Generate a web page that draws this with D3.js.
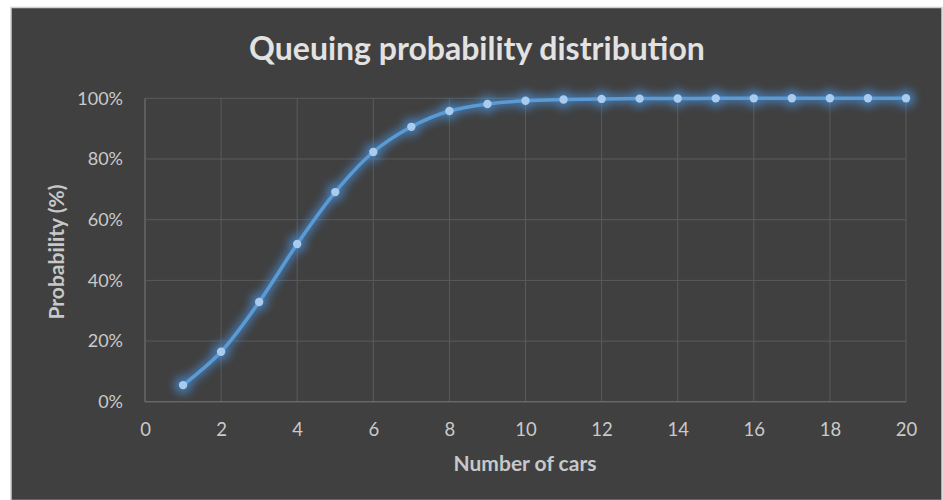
<!DOCTYPE html>
<html>
<head>
<meta charset="utf-8">
<script src="https://cdn.jsdelivr.net/npm/d3@7"></script>
<style>
html,body{margin:0;padding:0;background:#ffffff;}
svg{display:block;}
</style>
</head>
<body>
<svg id="chart" width="943" height="500"></svg>
<script>
const cars = [1,2,3,4,5,6,7,8,9,10,11,12,13,14,15,16,17,18,19,20];
const probability = [0.055,0.165,0.329,0.520,0.691,0.823,0.906,0.958,0.981,0.992,0.996,0.998,0.999,0.9995,0.9998,0.9999,1,1,1,1];
const xTicks = [0,2,4,6,8,10,12,14,16,18,20];
const yTicks = [0,0.2,0.4,0.6,0.8,1.0];
const title = "Queuing probability distribution";
const xTitle = "Number of cars";
const yTitle = "Probability (%)";

const svg = d3.select("#chart");
const W = 943, H = 500;
const font = "Lato, 'Open Sans', sans-serif";

svg.append("rect").attr("x",0).attr("y",0).attr("width",W).attr("height",H).attr("fill","#ffffff");
svg.append("rect").attr("x",11).attr("y",7.5).attr("width",931).attr("height",493)
  .attr("fill","#404040").attr("stroke","#d0d0d0").attr("stroke-width",1.5);

const m = {left:145, right:906, top:98.3, bottom:401.8};
const x = d3.scaleLinear().domain([0,20]).range([m.left, m.right]);
const y = d3.scaleLinear().domain([0,1]).range([m.bottom, m.top]);

const defs = svg.append("defs");
const glow = defs.append("filter").attr("id","glow").attr("x","-20%").attr("y","-20%").attr("width","140%").attr("height","140%");
glow.append("feGaussianBlur").attr("in","SourceGraphic").attr("stdDeviation",4).attr("result","b");

// grid
const gx = svg.append("g");
gx.selectAll("line.v").data(xTicks).join("line")
  .attr("x1",d=>x(d)).attr("x2",d=>x(d)).attr("y1",m.top).attr("y2",m.bottom)
  .attr("stroke",d=>d===0?"#7a7a7a":"#5a5a5a").attr("stroke-width",1);
gx.selectAll("line.h").data(yTicks).join("line")
  .attr("x1",m.left).attr("x2",m.right).attr("y1",d=>y(d)).attr("y2",d=>y(d))
  .attr("stroke",d=>d===0?"#7a7a7a":"#5a5a5a").attr("stroke-width",1);

// axes (labels only)
const xAxis = d3.axisBottom(x).tickValues(xTicks).tickSize(0).tickPadding(21);
const gxa = svg.append("g").attr("transform",`translate(0,${m.bottom})`).call(xAxis);
gxa.select(".domain").remove();
gxa.selectAll("text").attr("fill","#cacaca").style("font-family",font).style("font-size","18.5px");

const yAxis = d3.axisLeft(y).tickValues(yTicks).tickSize(0).tickPadding(22).tickFormat(d3.format(".0%"));
const gya = svg.append("g").attr("transform",`translate(${m.left},0)`).call(yAxis);
gya.select(".domain").remove();
gya.selectAll("text").attr("fill","#cacaca").style("font-family",font).style("font-size","18px");

// titles
svg.append("text").attr("x",477).attr("y",60).attr("text-anchor","middle")
  .attr("fill","#e2e2e2").style("font-family",font).style("font-weight","bold").style("font-size","32px")
  .text(title);
svg.append("text").attr("x",525).attr("y",471).attr("text-anchor","middle")
  .attr("fill","#c8c8c8").style("font-family",font).style("font-weight","bold").style("font-size","21px")
  .text(xTitle);
svg.append("text").attr("transform","translate(64,252) rotate(-90)").attr("text-anchor","middle")
  .attr("fill","#c8c8c8").style("font-family",font).style("font-weight","bold").style("font-size","21px")
  .text(yTitle);

// line
const data = cars.map((c,i)=>({c, p:probability[i]}));
const line = d3.line().x(d=>x(d.c)).y(d=>y(d.p)).curve(d3.curveCatmullRom.alpha(0.5));

const glowG = svg.append("g").attr("filter","url(#glow)").attr("opacity",0.7);
glowG.append("path").datum(data).attr("d",line).attr("fill","none").attr("stroke","#4a8fd8").attr("stroke-width",9);
glowG.selectAll("circle").data(data).join("circle").attr("cx",d=>x(d.c)).attr("cy",d=>y(d.p)).attr("r",9).attr("fill","#4a8fd8");

svg.append("path").datum(data).attr("d",line).attr("fill","none").attr("stroke","#5b9bd5").attr("stroke-width",3.5).attr("stroke-linecap","round");
svg.selectAll("circle.pt").data(data).join("circle").attr("class","pt")
  .attr("cx",d=>x(d.c)).attr("cy",d=>y(d.p)).attr("r",4.2).attr("fill","#a9cbee");
</script>
</body>
</html>
